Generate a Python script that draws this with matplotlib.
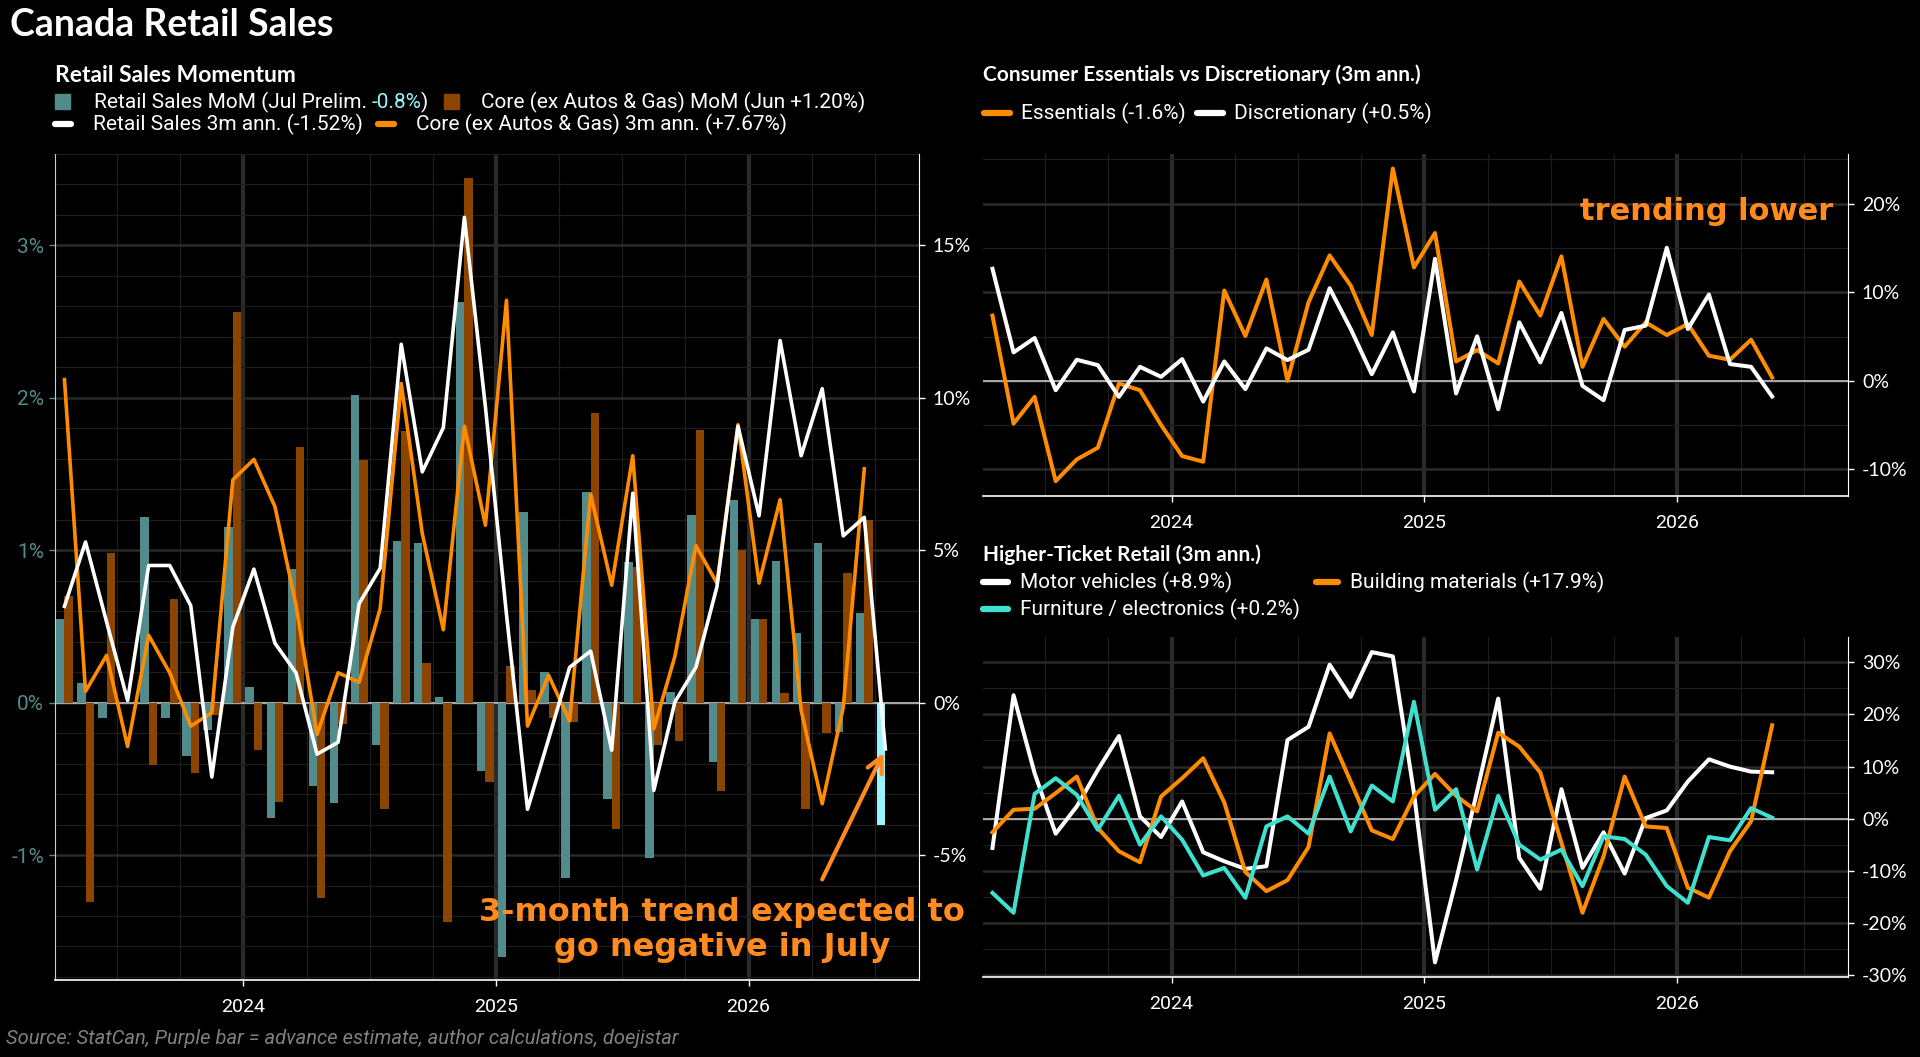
import numpy as np
import pandas as pd
import matplotlib
matplotlib.use("Agg")
import matplotlib.pyplot as plt
from matplotlib.lines import Line2D
from matplotlib.patches import Rectangle
from matplotlib.ticker import FixedLocator, MultipleLocator, FuncFormatter

# ---- data, monthly Apr 2023 .. Jul 2026 ----
months = pd.period_range("2023-04", "2026-07", freq="M")

# Retail Sales Momentum panel (MoM in %, 3m ann. in %)
rs_mom = [0.55, 0.13, -0.10, 0.00, 1.22, -0.10, -0.35, -0.18, 1.15, 0.10,
          -0.76, 0.88, -0.55, -0.66, 2.02, -0.28, 1.06, 1.05, 0.04, 2.63,
          -0.45, -1.67, 1.25, 0.20, -1.15, 1.38, -0.63, 0.92, -1.02, 0.07,
          1.23, -0.39, 1.33, 0.55, 0.93, 0.46, 1.05, -0.19, 0.59, -0.80]
core_mom = [0.70, -1.31, 0.98, 0.00, -0.41, 0.68, -0.46, -0.08, 2.56, -0.31,
            -0.65, 1.68, -1.28, -0.14, 1.59, -0.70, 1.78, 0.26, -1.44, 3.44,
            -0.52, 0.24, 0.08, -0.10, -0.13, 1.90, -0.83, 0.89, -0.28, -0.25,
            1.79, -0.58, 1.00, 0.55, 0.06, -0.70, -0.20, 0.85, 1.20]
rs_3m = [3.16, 5.27, 2.65, 0.07, 4.50, 4.50, 3.18, -2.44, 2.48, 4.38,
         1.95, 0.98, -1.69, -1.30, 3.25, 4.41, 11.76, 7.57, 9.02, 15.92,
         9.70, 2.90, -3.50, -1.20, 1.16, 1.69, -1.56, 6.87, -2.88, 0.02,
         1.16, 3.80, 9.07, 6.13, 11.88, 8.10, 10.30, 5.47, 6.08, -1.52]
core_3m = [10.60, 0.37, 1.55, -1.44, 2.21, 0.98, -0.77, -0.33, 7.31, 7.98,
           6.43, 3.20, -1.04, 0.98, 0.67, 3.09, 10.47, 5.55, 2.39, 9.07,
           5.82, 13.20, -0.77, 0.90, -0.60, 6.84, 3.85, 8.10, -0.86, 1.51,
           5.15, 3.92, 9.12, 3.92, 6.66, -0.25, -3.32, -0.16, 7.67]

# Consumer Essentials vs Discretionary (3m ann., %), to May 2026
ess_3m = [7.36, -4.83, -1.81, -11.32, -8.87, -7.55, -0.30, -1.06, -4.98, -8.49,
          -9.13, 10.19, 5.06, 11.43, 0.00, 8.87, 14.15, 10.75, 5.17, 23.96,
          12.80, 16.68, 2.19, 3.47, 1.96, 11.21, 7.36, 14.04, 1.58, 6.98,
          3.85, 6.60, 5.17, 6.42, 2.83, 2.38, 4.64, 0.38]
disc_3m = [12.64, 3.21, 4.83, -1.06, 2.38, 1.77, -1.81, 1.58, 0.45, 2.45,
           -2.34, 2.19, -0.94, 3.66, 2.34, 3.51, 10.45, 5.85, 0.75, 5.47,
           -1.20, 13.77, -1.43, 5.02, -3.21, 6.60, 2.08, 7.66, -0.57, -2.19,
           5.74, 6.23, 15.02, 5.85, 9.74, 1.89, 1.58, -1.77]

# Higher-Ticket Retail (3m ann., %), to May 2026
motor_3m = [-5.59, 23.65, 8.71, -2.86, 2.35, 9.35, 15.83, 0.45, -3.50, 3.31,
            -6.42, -8.14, -9.60, -9.09, 15.07, 17.61, 29.50, 23.33, 31.91, 31.09,
            5.00, -27.50, -11.80, 5.30, 23.00, -7.50, -13.40, 5.66, -9.40, -2.60,
            -10.50, 0.13, 1.59, 7.12, 11.38, 9.98, 9.03, 8.90]
build_3m = [-2.60, 1.72, 1.91, 4.90, 8.07, -1.78, -6.23, -8.33, 4.26, 7.76,
            11.57, 3.12, -10.20, -13.86, -11.76, -5.40, 16.34, 7.12, -2.22, -3.88,
            4.26, 8.58, 4.39, 1.40, 16.47, 13.80, 8.84, -4.60, -18.00, -7.20,
            8.07, -1.46, -1.78, -13.20, -15.10, -6.20, -0.50, 17.90]
furn_3m = [-14.20, -18.00, 4.77, 7.76, 4.58, -2.10, 4.39, -4.96, 0.45, -4.00,
           -10.87, -9.41, -15.13, -1.46, 0.45, -2.86, 8.07, -2.42, 6.36, 3.31,
           22.40, 1.72, 5.66, -9.73, 4.39, -4.96, -7.82, -5.91, -12.90, -3.37,
           -3.88, -6.87, -12.90, -16.10, -3.50, -4.13, 2.03, 0.20]

# ---- colours / fonts ----
TEAL, BROWN, ORANGE = "#528B8B", "#8B4500", "#FF8C00"
PRELIM, TURQ, NOTE = "#98F5FF", "#40E0D0", "#FF8A1F"
GRID_MAJ, GRID_MIN, ZERO = "#2a2a2a", "#1d1d1d", "#aaaaaa"
plt.rcParams["font.family"] = ["Lato", "DejaVu Sans"]
TXT = ["Roboto", "DejaVu Sans"]
BOLD = ["Lato", "DejaVu Sans"]
LEG = 15

W, H = 1920, 1057
fig = plt.figure(figsize=(W / 100, H / 100), dpi=100, facecolor="black")
fx = lambda px: px / W
fy = lambda py: 1 - py / H

x = np.arange(len(months))
year_pos = [i - 0.5 for i, m in enumerate(months) if m.month == 1]
year_lab = [str(m.year) for m in months if m.month == 1]
qtr_pos = [i - 0.5 for i, m in enumerate(months) if m.month in (1, 4, 7, 10)]
XLIM = (-0.45, 40.6)
pct = FuncFormatter(lambda v, _: f"{v:g}%")


def style(ax, major_y, minor_y):
    ax.set_facecolor("black")
    ax.set_xlim(*XLIM)
    ax.xaxis.set_major_locator(FixedLocator(year_pos))
    ax.xaxis.set_minor_locator(FixedLocator(qtr_pos))
    ax.set_xticklabels(year_lab, family=TXT, fontsize=14, color="white")
    ax.yaxis.set_major_locator(MultipleLocator(major_y))
    ax.yaxis.set_minor_locator(MultipleLocator(minor_y))
    ax.xaxis.grid(True, which="major", color=GRID_MAJ, lw=3.0)
    ax.xaxis.grid(True, which="minor", color=GRID_MIN, lw=0.9)
    ax.yaxis.grid(True, which="major", color=GRID_MAJ, lw=1.8)
    ax.yaxis.grid(True, which="minor", color=GRID_MIN, lw=0.9)
    ax.set_axisbelow(True)
    ax.tick_params(axis="x", which="major", colors="white", length=4, width=1, pad=9)
    ax.tick_params(which="minor", length=0)
    for s in ("top", "left", "right"):
        ax.spines[s].set_visible(False)
    ax.spines["bottom"].set_color("white")
    ax.spines["bottom"].set_linewidth(1.2)
    ax.axhline(0, color=ZERO, lw=1.4, zorder=1.5)


# ---- left panel: Retail Sales Momentum ----
ax1 = fig.add_axes([fx(55), fy(980), fx(864), 826 / H])
style(ax1, 1, 0.2)
ax1.set_ylim(-1.82, 3.60)
ax1.yaxis.set_major_formatter(pct)
ax1.tick_params(axis="y", which="major", colors=TEAL, length=4, width=1, pad=4)
for t in ax1.get_yticklabels():
    t.set_family(TXT)
    t.set_fontsize(15)
ax1.spines["left"].set_visible(True)
ax1.spines["left"].set_color("#cccccc")
ax1.spines["left"].set_linewidth(0.8)

bar_cols = [TEAL] * (len(rs_mom) - 1) + [PRELIM]
ax1.bar(x - 0.2, rs_mom, width=0.4, color=bar_cols, zorder=3)
ax1.bar(x[:len(core_mom)] + 0.2, core_mom, width=0.4, color=BROWN, zorder=3)

ax1r = ax1.twinx()
ax1r.set_ylim(-9.1, 18.0)
ax1r.yaxis.set_major_locator(MultipleLocator(5))
ax1r.yaxis.set_major_formatter(pct)
ax1r.tick_params(axis="y", colors="white", length=4, width=1, pad=6, labelsize=14)
for s in ("top", "left", "bottom"):
    ax1r.spines[s].set_visible(False)
ax1r.spines["right"].set_color("white")
ax1r.plot(x[:len(core_3m)], core_3m, color=ORANGE, lw=2.6, zorder=4)
ax1r.plot(x, rs_3m, color="white", lw=2.6, zorder=5)
ax1r.annotate("", xy=(x[-1], rs_3m[-1]), xytext=(36.0, -5.8),
              arrowprops=dict(arrowstyle="->", color=NOTE, lw=3,
                              mutation_scale=28, shrinkA=0, shrinkB=3))

# ---- top right: essentials vs discretionary ----
ax2 = fig.add_axes([fx(983), fy(496), fx(865), 342 / H])
style(ax2, 10, 5)
ax2.set_ylim(-13.0, 25.6)
ax2.yaxis.tick_right()
ax2.yaxis.set_major_formatter(pct)
ax2.tick_params(axis="y", which="major", colors="white", length=4, width=1,
                pad=6, labelsize=14)
ax2.spines["right"].set_visible(True)
ax2.spines["right"].set_color("white")
ax2.plot(x[:len(ess_3m)], ess_3m, color=ORANGE, lw=2.9, zorder=4)
ax2.plot(x[:len(disc_3m)], disc_3m, color="white", lw=2.9, zorder=5)

# ---- bottom right: higher-ticket retail ----
ax3 = fig.add_axes([fx(983), fy(977), fx(865), 340 / H])
style(ax3, 10, 5)
ax3.set_ylim(-30.3, 34.8)
ax3.yaxis.tick_right()
ax3.yaxis.set_major_formatter(pct)
ax3.tick_params(axis="y", which="major", colors="white", length=4, width=1,
                pad=6, labelsize=14)
ax3.spines["right"].set_visible(True)
ax3.spines["right"].set_color("white")
ax3.plot(x[:len(motor_3m)], motor_3m, color="white", lw=2.9, zorder=4)
ax3.plot(x[:len(build_3m)], build_3m, color=ORANGE, lw=2.9, zorder=5)
ax3.plot(x[:len(furn_3m)], furn_3m, color=TURQ, lw=2.9, zorder=6)

# ---- titles / legends (pixel layout, y from top) ----
renderer = fig.canvas.get_renderer()


def chain(px, py, parts, size):
    for txt, col in parts:
        t = fig.text(fx(px), fy(py), txt, color=col, family=TXT, fontsize=size,
                     va="center", ha="left")
        px = t.get_window_extent(renderer).x1
    return px


def handle(px, py, kind, col, hw):
    if kind == "box":
        fig.add_artist(Rectangle((fx(px), fy(py + 7.5)), fx(15), 15 / H,
                                 color=col, transform=fig.transFigure))
        return px + 15
    fig.add_artist(Line2D([fx(px), fx(px + hw)], [fy(py), fy(py)], color=col,
                          lw=4.5, solid_capstyle="round", transform=fig.transFigure))
    return px + hw


def legend_row(px, py, items, hw, hgap, igap, size):
    for kind, col, parts in items:
        px = handle(px, py, kind, col, hw) + hgap
        px = chain(px, py, parts, size) + igap
    return px


fig.text(fx(10), fy(25), "Canada Retail Sales", color="white", family=BOLD,
         fontweight="bold", fontsize=27, va="center")
fig.text(fx(55), fy(76), "Retail Sales Momentum", color="white", family=BOLD,
         fontweight="bold", fontsize=16.5, va="center")
fig.text(fx(983), fy(75), "Consumer Essentials vs Discretionary (3m ann.)",
         color="white", family=BOLD, fontweight="bold", fontsize=15, va="center")
fig.text(fx(983), fy(555), "Higher-Ticket Retail (3m ann.)", color="white",
         family=BOLD, fontweight="bold", fontsize=15, va="center")

# left legend: first part, then cyan value, then closing bracket
px = handle(55, 102, "box", TEAL, 15) + 24
px = chain(px, 102, [("Retail Sales MoM (Jul Prelim.", "white")], LEG) + 4
px = chain(px, 102, [("-0.8%", PRELIM), (")", "white")], LEG) + 16
legend_row(px, 102, [("box", BROWN, [("Core (ex Autos & Gas) MoM (Jun +1.20%)", "white")])],
           16, 22, 0, LEG)
legend_row(55, 124, [("line", "white", [("Retail Sales 3m ann. (-1.52%)", "white")]),
                     ("line", ORANGE, [("Core (ex Autos & Gas) 3m ann. (+7.67%)", "white")])],
           16, 22, 15, LEG)

legend_row(984, 113, [("line", ORANGE, [("Essentials (-1.6%)", "white")]),
                      ("line", "white", [("Discretionary (+0.5%)", "white")])],
           26, 11, 11, LEG)

e1 = legend_row(983, 582, [("line", "white", [("Motor vehicles (+8.9%)", "white")])], 25, 12, 0, LEG)
e2 = legend_row(983, 609, [("line", TURQ, [("Furniture / electronics (+0.2%)", "white")])], 25, 12, 0, LEG)
legend_row(max(e1, e2) + 16, 582, [("line", ORANGE, [("Building materials (+17.9%)", "white")])],
           22, 12, 0, LEG)

# annotations
fig.text(fx(722), fy(930), "3-month trend expected to\ngo negative in July",
         color=NOTE, family=["DejaVu Sans"], fontweight="bold", fontsize=23,
         ha="center", va="center", linespacing=1.15)
fig.text(fx(1833), fy(211), "trending lower", color=NOTE, family=["DejaVu Sans"],
         fontweight="bold", fontsize=22, ha="right", va="center")
fig.text(fx(6), fy(1038),
         "Source: StatCan, Purple bar = advance estimate, author calculations, doejistar",
         color="#808080", family=TXT, style="italic", fontsize=14.5, va="center")

fig.savefig("out.png", dpi=100, facecolor="black")
